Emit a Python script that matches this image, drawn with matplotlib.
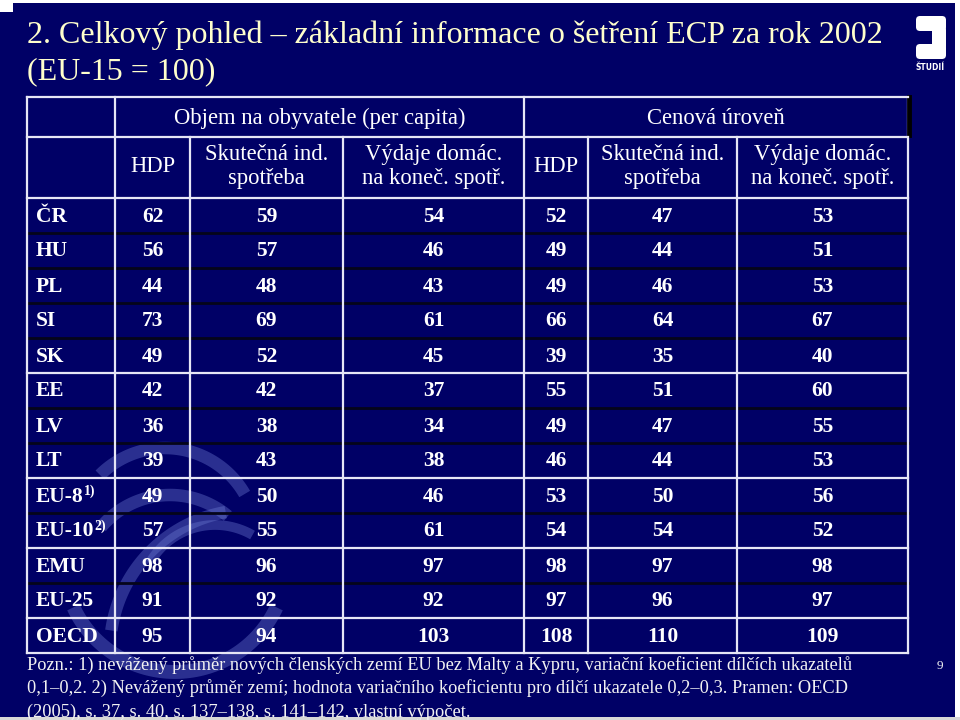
import numpy as np
import matplotlib
matplotlib.use("Agg")
import matplotlib.pyplot as plt
from matplotlib.patches import Rectangle, FancyBboxPatch

# ---------------- data ----------------
title_line1 = "2. Celkový pohled – základní informace o šetření ECP za rok 2002"
title_line2 = "(EU-15 = 100)"
group_headers = ["Objem na obyvatele (per capita)", "Cenová úroveň"]
col_headers = ["HDP", "Skutečná ind.\nspotřeba", "Výdaje domác.\nna koneč. spotř.",
               "HDP", "Skutečná ind.\nspotřeba", "Výdaje domác.\nna koneč. spotř."]
rows = ["ČR", "HU", "PL", "SI", "SK", "EE", "LV", "LT", "EU-8", "EU-10", "EMU", "EU-25", "OECD"]
row_sup = ["", "", "", "", "", "", "", "", "1)", "2)", "", "", ""]
hdp_pc = [62, 56, 44, 73, 49, 42, 36, 39, 49, 57, 98, 91, 95]
aic_pc = [59, 57, 48, 69, 52, 42, 38, 43, 50, 55, 96, 92, 94]
hfce_pc = [54, 46, 43, 61, 45, 37, 34, 38, 46, 61, 97, 92, 103]
hdp_pl = [52, 49, 49, 66, 39, 55, 49, 46, 53, 54, 98, 97, 108]
aic_pl = [47, 44, 46, 64, 35, 51, 47, 44, 50, 54, 97, 96, 110]
hfce_pl = [53, 51, 53, 67, 40, 60, 55, 53, 56, 52, 98, 97, 109]
footnote = ["Pozn.: 1) nevážený průměr nových členských zemí EU bez Malty a Kypru, variační koeficient dílčích ukazatelů",
            "0,1–0,2. 2) Nevážený průměr zemí; hodnota variačního koeficientu pro dílčí ukazatele 0,2–0,3. Pramen: OECD",
            "(2005), s. 37, s. 40, s. 137–138, s. 141–142, vlastní výpočet."]
page_no = "9"

columns = [hdp_pc, aic_pc, hfce_pc, hdp_pl, aic_pl, hfce_pl]

# ---------------- layout / style ----------------
BG = "#000066"
WHITE = "#E6E6F6"
DARK = "#05051a"
TITLE_C = "#FFFFCC"
SERIF = ["Liberation Serif", "DejaVu Serif"]

fig = plt.figure(figsize=(9.6, 7.2), dpi=100)
fig.patch.set_facecolor(BG)
ax = fig.add_axes([0, 0, 1, 1])
ax.set_xlim(0, 960)
ax.set_ylim(720, 0)
ax.axis("off")
ax.set_facecolor(BG)

# watermark swirl (faint)
def band(cx, cy, r, a0, a1, lw):
    t = np.radians(np.linspace(a0, a1, 80))
    ax.plot(cx + r * np.cos(t), cy - r * np.sin(t), color="#6a78d0", alpha=0.4,
            lw=lw, solid_capstyle="butt", zorder=1)

band(165, 540, 92, 30, 135, 9)
band(170, 585, 90, 50, 140, 9)
band(175, 560, 112, 205, 335, 10)
band(250, 650, 140, 100, 172, 9)
band(215, 600, 75, 60, 150, 7)

# title
ax.text(27, 35, title_line1, color=TITLE_C, fontsize=23, family=SERIF, va="center", ha="left")
ax.text(27, 72, title_line2, color=TITLE_C, fontsize=23, family=SERIF, va="center", ha="left")

# table geometry
vx = [27, 115, 190, 343, 524, 588, 737, 908]
y_top, y_h1, y_h2 = 97, 137, 198
pitch = 35
nrows = len(rows)
y_bot = y_h2 + pitch * nrows
white_b = {0, 5, 8, 10, 12, 13}

lw = 1.6
# dark row separators
for i in range(1, nrows):
    if i not in white_b:
        y = y_h2 + pitch * i
        ax.plot([vx[0], vx[-1]], [y, y], color=DARK, lw=2.0, zorder=2)

# vertical lines
for j, x in enumerate(vx):
    y0 = y_top if j in (0, 1, 4, 7) else y_h1
    ax.plot([x, x], [y0, y_bot], color=WHITE, lw=lw, zorder=3)
# black shadow at right of top header
ax.plot([vx[-1] + 1, vx[-1] + 1], [y_top, y_h1 - 2], color="black", lw=3.5, zorder=3)

# white horizontal lines
for y in (y_top, y_h1):
    ax.plot([vx[0], vx[-1]], [y, y], color=WHITE, lw=lw, zorder=3)
for i in sorted(white_b):
    y = y_h2 + pitch * i
    ax.plot([vx[0], vx[-1]], [y, y], color=WHITE, lw=lw, zorder=3)

# headers
ax.text((vx[1] + vx[4]) / 2, (y_top + y_h1) / 2 + 1, group_headers[0], color="white",
        fontsize=16.3, family=SERIF, ha="center", va="center", zorder=4)
ax.text((vx[4] + vx[7]) / 2, (y_top + y_h1) / 2 + 1, group_headers[1], color="white",
        fontsize=16.3, family=SERIF, ha="center", va="center", zorder=4)
for j, h in enumerate(col_headers):
    cx = (vx[j + 1] + vx[j + 2]) / 2
    ax.text(cx, (y_h1 + y_h2) / 2 - 1, h, color="white", fontsize=16.3, family=SERIF,
            ha="center", va="center", linespacing=1.15, zorder=4)

# body
fig.canvas.draw()
renderer = fig.canvas.get_renderer()
inv = ax.transData.inverted()
for i, lab in enumerate(rows):
    yc = y_h2 + pitch * i + pitch / 2 + 1
    t = ax.text(36, yc, lab, color="white", fontsize=15.5, fontweight="bold", family=SERIF,
                ha="left", va="center", zorder=4)
    if row_sup[i]:
        bb = t.get_window_extent(renderer=renderer)
        xr = inv.transform((bb.x1, bb.y1))[0]
        ax.text(xr, yc - 5, row_sup[i], color="white", fontsize=10, fontweight="bold",
                family=SERIF, ha="left", va="center", zorder=4)
    for j, col in enumerate(columns):
        cx = (vx[j + 1] + vx[j + 2]) / 2
        ax.text(cx, yc, str(col[i]), color="white", fontsize=15.5, fontweight="bold",
                family=SERIF, ha="center", va="center", zorder=4)

# footnote
for k, line in enumerate(footnote):
    ax.text(27, 665 + 23.5 * k, line, color="#F2F2F2", fontsize=13.2, family=SERIF,
            ha="left", va="center", zorder=11)
ax.text(940, 666, page_no, color="#F2F2F2", fontsize=9.5, family=SERIF, ha="center",
        va="center", zorder=4)

# logo (top right)
for (x, y, w, h) in [(916, 16, 30, 15), (932, 26, 14, 24), (916, 44, 30, 15)]:
    ax.add_patch(FancyBboxPatch((x, y), w, h, boxstyle="round,pad=0,rounding_size=4",
                                fc="white", ec="none", zorder=5))
ax.text(930, 68, "ŠTUDIÍ", color="white", fontsize=5.5, fontweight="bold",
        family="DejaVu Sans", ha="center", va="center", zorder=5)

# slide border (white edges)
ax.add_patch(Rectangle((0, 0), 960, 3, fc="white", ec="none", zorder=10))
ax.add_patch(Rectangle((955, 0), 5, 720, fc="white", ec="none", zorder=10))
ax.add_patch(Rectangle((0, 717), 960, 3, fc="#d8d8d8", ec="none", zorder=10))
ax.add_patch(Rectangle((0, 0), 13, 12, fc="white", ec="none", zorder=10))

fig.savefig("out.png", dpi=100, facecolor=BG)
